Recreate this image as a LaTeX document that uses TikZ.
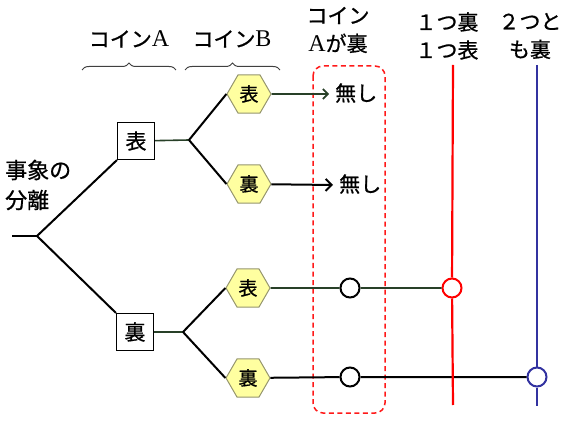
\documentclass[tikz,border=0pt]{standalone}
\usepackage{fontspec}
\setmainfont{Noto Sans CJK JP}[FakeBold=0.8]
\newfontfamily\latinrm{Liberation Serif}
\newcommand{\latA}[1]{{\latinrm\fontsize{24}{24}\selectfont #1}}
\usetikzlibrary{shapes.geometric,decorations.pathreplacing,arrows.meta}
\definecolor{hexfill}{RGB}{255,255,160}
\definecolor{hexline}{RGB}{150,150,110}
\definecolor{linkgreen}{RGB}{40,64,40}
\definecolor{oneblue}{RGB}{50,50,160}
\tikzset{
  lbl/.style={font=\fontsize{21}{28}\selectfont, inner sep=0pt, align=center},
  coinbox/.style={draw, line width=1.2pt, fill=white, minimum size=37pt, inner sep=0pt, font=\fontsize{21}{21}\selectfont},
  hexbox/.style={regular polygon, regular polygon sides=6, draw=hexline, line width=1pt, fill=hexfill, minimum size=44pt, inner sep=0pt, font=\fontsize{19}{19}\selectfont},
  dot/.style={circle, draw, line width=2pt, fill=white, minimum size=19pt, inner sep=0pt},
  branch/.style={line width=2pt},
  link/.style={line width=1.6pt, linkgreen},
  brc/.style={decorate, decoration={brace, amplitude=7pt}, line width=1pt, black!75}
}
\begin{document}
\begin{tikzpicture}[x=1pt, y=-1pt]
\useasboundingbox (0,0) rectangle (573,422);

\node[lbl] (coinA) at (129,39) {コイン\latA{A}};
\node[lbl] (coinB) at (232,39) {コイン\latA{B}};
\node[lbl] (colA) at (338,30) {コイン\\\latA{A}が裏};
\node[lbl] (oneone) at (447,36) {１つ裏\\１つ表};
\node[lbl] (twoback) at (530,36) {２つと\\も裏};
\node[lbl, anchor=west, align=left, font=\fontsize{22}{30}\selectfont] (split) at (5,185) {事象の\\分離};
\draw[brc] (82,70) -- (176,70);
\draw[brc] (185,70) -- (280,70);

\draw[red!90, line width=1.5pt, dash pattern=on 5pt off 3.5pt, rounded corners=10pt] (313,66) rectangle (385,413);

\coordinate (start) at (12,236);
\coordinate (root) at (37,236);
\node[coinbox] (A1) at (136,141) {表};
\node[coinbox] (A2) at (135,332) {裏};
\coordinate (fork1) at (189,140);
\coordinate (fork2) at (183,332);
\node[hexbox] (B11) at (249,94) {表};
\node[hexbox] (B12) at (249,184) {裏};
\node[hexbox] (B21) at (248,288) {表};
\node[hexbox] (B22) at (248,378) {裏};
\coordinate (end11) at (329,94);
\coordinate (end12) at (333,185);
\node[lbl, anchor=west] (none1) at (335,93) {無し};
\node[lbl, anchor=west] (none2) at (339,184) {無し};

\coordinate (redtop) at (453,65);
\coordinate (redbot) at (453,405);
\coordinate (bluetop) at (537,65);
\coordinate (bluebot) at (537,406);
\node[dot] (c21) at (350,288) {};
\node[dot] (c22) at (350,377) {};
\node[dot, draw=red] (red1) at (452,288) {};
\node[dot, draw=oneblue] (blue1) at (537,377) {};

\draw[branch] (start) -- (root);
\draw[branch] (root) -- (A1.south west);
\draw[branch] (root) -- (A2.north west);
\draw[link] (A1) -- (fork1);
\draw[link] (A2) -- (fork2);
\draw[branch] (fork1) -- (B11.west);
\draw[branch] (fork1) -- (B12.west);
\draw[branch] (fork2) -- (B21.west);
\draw[branch] (fork2) -- (B22.west);
\draw[link, -{Straight Barb[length=5pt]}] (B11) -- (end11);
\draw[branch, -{Straight Barb[length=6pt]}] (B12) -- (end12);
\draw[link] (B21) -- (c21) -- (red1);
\draw[branch] (B22) -- (c22) -- (blue1);
\draw[red, line width=2.2pt] (redtop) -- (red1) -- (redbot);
\draw[oneblue, line width=2.2pt] (bluetop) -- (blue1) -- (bluebot);
\end{tikzpicture}
\end{document}
